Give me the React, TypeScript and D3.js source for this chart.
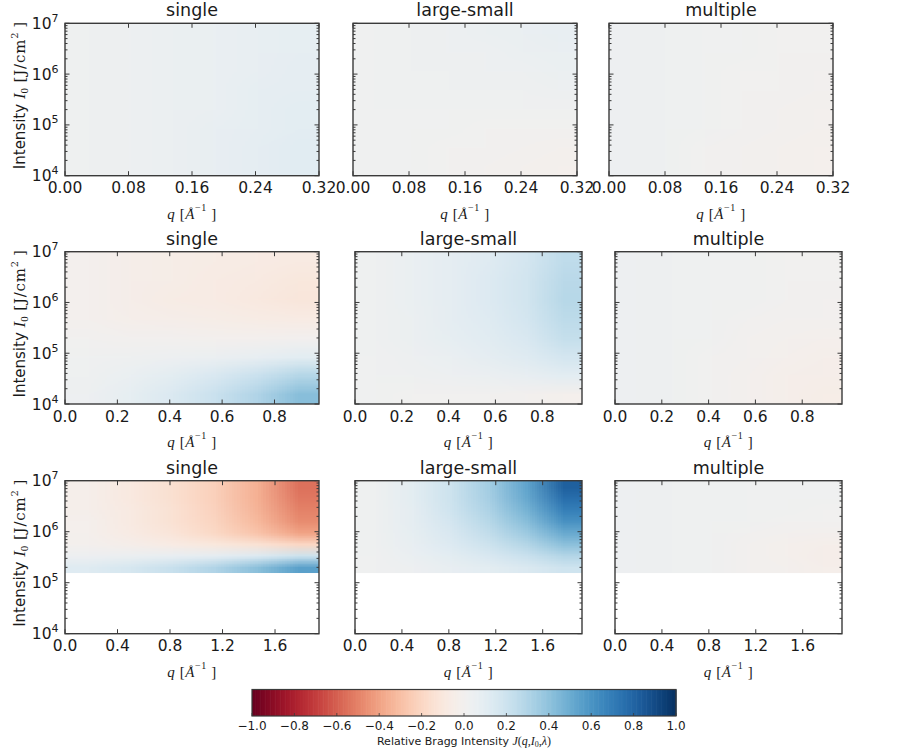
import React, { useMemo } from 'react';
import * as d3 from 'd3';

// ---- data -----------------------------------------------------------------
const PANEL_TITLES = ['single', 'large-small', 'multiple'];

// q-range of each row of panels (Å^-1)
const Q_MAX = [0.32, 0.97, 1.935];
const Q_TICKS = [
  [0, 0.08, 0.16, 0.24, 0.32],
  [0, 0.2, 0.4, 0.6, 0.8],
  [0, 0.4, 0.8, 1.2, 1.6],
];
const Q_TICK_FORMAT = ['.2f', '.1f', '.1f'];

// intensity axis (J/cm^2) and lowest intensity with data, per row (log10)
const I_DOMAIN = [1e4, 1e7];
const I_TICKS = [1e4, 1e5, 1e6, 1e7];
const LOG_I_DATA_MIN = [4, 4, 5.19];

const CB_TICKS = [-1, -0.8, -0.6, -0.4, -0.2, 0, 0.2, 0.4, 0.6, 0.8, 1];

// Relative Bragg intensity J(q, I0, λ) on a grid of cells:
// rows run from the highest intensity (top) to the lowest (bottom),
// columns run from q = 0 to q = q_max.
const J_ROW1_SINGLE = [
  [0.03, 0.04, 0.05, 0.06, 0.07, 0.08],
  [0.03, 0.04, 0.05, 0.06, 0.07, 0.08],
  [0.03, 0.04, 0.05, 0.06, 0.07, 0.09],
  [0.03, 0.04, 0.05, 0.06, 0.08, 0.09],
  [0.03, 0.04, 0.05, 0.06, 0.08, 0.1],
  [0.03, 0.04, 0.05, 0.07, 0.08, 0.1],
  [0.03, 0.04, 0.05, 0.07, 0.09, 0.11],
  [0.03, 0.04, 0.05, 0.07, 0.09, 0.11],
];
const J_ROW1_LARGE_SMALL = [
  [0.02, 0.03, 0.04, 0.05, 0.06, 0.07],
  [0.02, 0.03, 0.04, 0.04, 0.05, 0.06],
  [0.02, 0.03, 0.03, 0.04, 0.04, 0.05],
  [0.02, 0.03, 0.03, 0.03, 0.03, 0.04],
  [0.02, 0.02, 0.02, 0.02, 0.02, 0.02],
  [0.02, 0.02, 0.02, 0.01, 0.01, 0.01],
  [0.02, 0.02, 0.01, 0.01, 0.0, -0.01],
  [0.02, 0.02, 0.01, 0.0, -0.01, -0.02],
];
const J_ROW1_MULTIPLE = [
  [0.04, 0.03, 0.02, 0.02, 0.01, 0.01],
  [0.04, 0.03, 0.02, 0.02, 0.01, 0.01],
  [0.04, 0.03, 0.02, 0.01, 0.01, 0.0],
  [0.04, 0.03, 0.02, 0.01, 0.01, 0.0],
  [0.04, 0.03, 0.02, 0.01, 0.0, -0.01],
  [0.04, 0.03, 0.02, 0.01, 0.0, -0.01],
  [0.04, 0.03, 0.01, 0.0, -0.01, -0.02],
  [0.04, 0.03, 0.01, 0.0, -0.01, -0.02],
];

const J_ROW2_SINGLE = [
  [-0.01, -0.04, -0.05, -0.06, -0.07, -0.08],
  [-0.01, -0.04, -0.05, -0.07, -0.08, -0.1],
  [-0.01, -0.04, -0.06, -0.07, -0.09, -0.11],
  [-0.01, -0.03, -0.04, -0.05, -0.06, -0.07],
  [0.01, 0.0, 0.0, -0.01, -0.01, 0.0],
  [0.02, 0.03, 0.04, 0.05, 0.07, 0.1],
  [0.03, 0.06, 0.1, 0.15, 0.21, 0.29],
  [0.04, 0.08, 0.14, 0.21, 0.3, 0.42],
];
const J_ROW2_LARGE_SMALL = [
  [0.03, 0.06, 0.09, 0.12, 0.17, 0.25],
  [0.03, 0.06, 0.09, 0.13, 0.18, 0.27],
  [0.03, 0.06, 0.09, 0.13, 0.18, 0.28],
  [0.03, 0.05, 0.09, 0.12, 0.17, 0.26],
  [0.03, 0.05, 0.08, 0.11, 0.15, 0.23],
  [0.02, 0.04, 0.06, 0.09, 0.12, 0.17],
  [0.02, 0.03, 0.04, 0.05, 0.07, 0.1],
  [0.02, 0.01, 0.01, 0.01, 0.0, -0.02],
];
const J_ROW2_MULTIPLE = [
  [0.04, 0.03, 0.02, 0.02, 0.01, 0.01],
  [0.04, 0.03, 0.02, 0.02, 0.01, 0.01],
  [0.04, 0.03, 0.02, 0.02, 0.01, 0.0],
  [0.04, 0.03, 0.02, 0.01, 0.0, 0.0],
  [0.04, 0.03, 0.02, 0.0, -0.01, -0.02],
  [0.04, 0.03, 0.01, 0.0, -0.02, -0.03],
  [0.04, 0.03, 0.01, -0.01, -0.03, -0.04],
  [0.04, 0.03, 0.01, -0.01, -0.03, -0.05],
];

const J_ROW3_SINGLE = [
  [-0.03, -0.09, -0.15, -0.23, -0.35, -0.55],
  [-0.03, -0.09, -0.15, -0.23, -0.35, -0.53],
  [-0.03, -0.08, -0.14, -0.22, -0.34, -0.5],
  [-0.02, -0.08, -0.14, -0.21, -0.32, -0.47],
  [-0.02, -0.07, -0.12, -0.19, -0.28, -0.4],
  [-0.01, -0.04, -0.07, -0.1, -0.14, -0.2],
  [0.04, 0.05, 0.07, 0.09, 0.13, 0.2],
  [0.12, 0.16, 0.22, 0.3, 0.41, 0.55],
];
const J_ROW3_LARGE_SMALL = [
  [0.03, 0.1, 0.2, 0.34, 0.53, 0.82],
  [0.03, 0.1, 0.2, 0.33, 0.51, 0.76],
  [0.03, 0.09, 0.19, 0.31, 0.47, 0.69],
  [0.03, 0.09, 0.17, 0.28, 0.42, 0.61],
  [0.03, 0.08, 0.15, 0.24, 0.36, 0.51],
  [0.03, 0.07, 0.13, 0.2, 0.29, 0.41],
  [0.02, 0.06, 0.1, 0.15, 0.21, 0.29],
  [0.02, 0.04, 0.07, 0.1, 0.14, 0.19],
];
const J_ROW3_MULTIPLE = [
  [0.04, 0.03, 0.03, 0.02, 0.02, 0.02],
  [0.04, 0.03, 0.03, 0.02, 0.02, 0.02],
  [0.04, 0.03, 0.03, 0.02, 0.02, 0.01],
  [0.04, 0.03, 0.02, 0.02, 0.01, 0.01],
  [0.04, 0.03, 0.02, 0.01, 0.0, -0.01],
  [0.04, 0.03, 0.02, 0.0, -0.02, -0.03],
  [0.04, 0.03, 0.02, 0.0, -0.02, -0.04],
  [0.04, 0.03, 0.02, 0.0, -0.01, -0.03],
];

const J_GRIDS = [
  [J_ROW1_SINGLE, J_ROW1_LARGE_SMALL, J_ROW1_MULTIPLE],
  [J_ROW2_SINGLE, J_ROW2_LARGE_SMALL, J_ROW2_MULTIPLE],
  [J_ROW3_SINGLE, J_ROW3_LARGE_SMALL, J_ROW3_MULTIPLE],
];

// ---- layout ---------------------------------------------------------------
const WIDTH = 922;
const HEIGHT = 753;
const ROW_TOP = [23.3, 251.7, 480.7];
const ROW_BOTTOM = [175.7, 404, 633.7];
const COL_SPAN = [
  [[65, 319], [353, 577], [609, 833]],
  [[65, 319], [355, 582], [615, 842]],
  [[65, 319], [355, 582], [615, 842]],
];
const CB = { left: 252, right: 676, top: 689.5, bottom: 716 };

const SANS = '"DejaVu Sans", "Liberation Sans", sans-serif';
const SERIF = '"Liberation Serif", "DejaVu Serif", serif';
const WIDE_SERIF = '"DejaVu Serif", "Liberation Serif", serif';
const FRAME = '#3a3a3a';
const INK = '#1a1a1a';

const colorOf = d3.scaleSequential(d3.interpolateRdBu).domain([-1, 1]);

function heatmapHref(grid: number[][]): string {
  const ny = grid.length;
  const nx = grid[0].length;
  const canvas = document.createElement('canvas');
  canvas.width = nx;
  canvas.height = ny;
  const ctx = canvas.getContext('2d');
  if (!ctx) return '';
  grid.forEach((row, j) =>
    row.forEach((v, i) => {
      ctx.fillStyle = colorOf(v);
      ctx.fillRect(i, j, 1, 1);
    })
  );
  return canvas.toDataURL();
}

type PanelProps = { row: number; col: number };

function Panel({ row, col }: PanelProps) {
  const [left, right] = COL_SPAN[row][col];
  const top = ROW_TOP[row];
  const bottom = ROW_BOTTOM[row];
  const x = d3.scaleLinear().domain([0, Q_MAX[row]]).range([left, right]);
  const y = d3.scaleLog().domain(I_DOMAIN).range([bottom, top]);
  const grid = J_GRIDS[row][col];
  const href = useMemo(() => heatmapHref(grid), [grid]);
  const fmt = d3.format(Q_TICK_FORMAT[row]);

  const yMajor = I_TICKS;
  const yMinor: number[] = [];
  for (let k = 4; k < 7; k++) for (let m = 2; m <= 9; m++) yMinor.push(m * 10 ** k);

  const dataTop = y(I_DOMAIN[1]);
  const dataBottom = y(10 ** LOG_I_DATA_MIN[row]);
  const cx = (left + right) / 2;
  const maj = 4.5;
  const mnr = 2.5;

  return (
    <g>
      <image
        href={href}
        x={x(0)}
        y={dataTop}
        width={x(Q_MAX[row]) - x(0)}
        height={dataBottom - dataTop}
        preserveAspectRatio="none"
        style={{ imageRendering: 'auto' }}
      />
      {/* ticks */}
      <g stroke={FRAME} strokeWidth={1}>
        {Q_TICKS[row].map((t) => (
          <g key={'xt' + t}>
            <line x1={x(t)} x2={x(t)} y1={bottom} y2={bottom - maj} />
            <line x1={x(t)} x2={x(t)} y1={top} y2={top + maj} />
          </g>
        ))}
        {yMajor.map((t) => (
          <g key={'ym' + t}>
            <line x1={left} x2={left + maj} y1={y(t)} y2={y(t)} />
            <line x1={right} x2={right - maj} y1={y(t)} y2={y(t)} />
          </g>
        ))}
        {yMinor.map((t) => (
          <g key={'yn' + t}>
            <line x1={left} x2={left + mnr} y1={y(t)} y2={y(t)} />
            <line x1={right} x2={right - mnr} y1={y(t)} y2={y(t)} />
          </g>
        ))}
      </g>
      <rect
        x={left}
        y={top}
        width={right - left}
        height={bottom - top}
        fill="none"
        stroke={FRAME}
        strokeWidth={1.4}
      />
      {/* x tick labels */}
      {Q_TICKS[row].map((t) => (
        <text
          key={'xl' + t}
          x={x(t)}
          y={bottom + 17.5}
          textAnchor="middle"
          fontFamily={SANS}
          fontSize={15.5}
          fill={INK}
        >
          {fmt(t)}
        </text>
      ))}
      {/* y tick labels on the first column */}
      {col === 0 &&
        yMajor.map((t) => (
          <text
            key={'yl' + t}
            x={left - 6.5}
            y={y(t) + 5.5}
            textAnchor="end"
            fontFamily={SANS}
            fontSize={15.5}
            fill={INK}
          >
            10
            <tspan dy={-7} fontSize={11}>
              {Math.round(Math.log10(t))}
            </tspan>
          </text>
        ))}
      {/* title */}
      <text
        x={cx}
        y={top - 7}
        textAnchor="middle"
        fontFamily={SANS}
        fontSize={17.5}
        fill={INK}
      >
        {PANEL_TITLES[col]}
      </text>
      {/* x axis label */}
      <text
        x={cx}
        y={bottom + 43}
        textAnchor="middle"
        fontFamily={SERIF}
        fontSize={15}
        letterSpacing={0.6}
        fill={INK}
      >
        <tspan fontStyle="italic">q</tspan>
        <tspan> [</tspan>
        <tspan fontStyle="italic">Å</tspan>
        <tspan dy={-8} fontSize={10}>
          −1
        </tspan>
        <tspan dy={8}>{' ]'}</tspan>
      </text>
      {/* y axis label */}
      {col === 0 && (
        <text
          transform={`translate(25,${(top + bottom) / 2 - 4}) rotate(-90)`}
          textAnchor="middle"
          fontSize={15}
          fill={INK}
        >
          <tspan fontFamily={SANS}>Intensity </tspan>
          <tspan fontFamily={SERIF} fontStyle="italic" fontSize={17}>
            I
          </tspan>
          <tspan fontFamily={SERIF} dy={3} fontSize={11}>
            0
          </tspan>
          <tspan fontFamily={WIDE_SERIF} dy={-3} fontSize={15} letterSpacing={0.8}>
            {' [J/cm'}
          </tspan>
          <tspan fontFamily={WIDE_SERIF} dy={-7} fontSize={10}>
            2
          </tspan>
          <tspan fontFamily={WIDE_SERIF} dy={7} fontSize={15}>
            {' ]'}
          </tspan>
        </text>
      )}
    </g>
  );
}

function Colorbar() {
  const x = d3.scaleLinear().domain([-1, 1]).range([CB.left, CB.right]);
  const steps = d3.range(-1, 1, 2 / 256);
  const fmt = d3.format('.1f');
  return (
    <g>
      {steps.map((v) => (
        <rect
          key={v}
          x={x(v)}
          y={CB.top}
          width={x(v + 2 / 256) - x(v) + 0.6}
          height={CB.bottom - CB.top}
          fill={colorOf(v + 1 / 256)}
        />
      ))}
      <rect
        x={CB.left}
        y={CB.top}
        width={CB.right - CB.left}
        height={CB.bottom - CB.top}
        fill="none"
        stroke={FRAME}
        strokeWidth={1.2}
      />
      {CB_TICKS.map((t) => (
        <g key={t}>
          <line
            x1={x(t)}
            x2={x(t)}
            y1={CB.bottom}
            y2={CB.bottom - 3}
            stroke={FRAME}
            strokeWidth={0.8}
          />
          <text
            x={x(t)}
            y={CB.bottom + 13.5}
            textAnchor="middle"
            fontFamily={SANS}
            fontSize={12}
            fill={INK}
          >
            {fmt(t)}
          </text>
        </g>
      ))}
      <text
        x={(CB.left + CB.right) / 2}
        y={744.5}
        textAnchor="middle"
        fontSize={11}
        fill={INK}
      >
        <tspan fontFamily={SANS}>Relative Bragg Intensity </tspan>
        <tspan fontFamily={SERIF} fontStyle="italic" fontSize={12}>
          J
        </tspan>
        <tspan fontFamily={SERIF} fontSize={12}>(</tspan>
        <tspan fontFamily={SERIF} fontStyle="italic" fontSize={12}>
          q
        </tspan>
        <tspan fontFamily={SERIF} fontSize={12}>,</tspan>
        <tspan fontFamily={SERIF} fontStyle="italic" fontSize={12}>
          I
        </tspan>
        <tspan fontFamily={SERIF} dy={2} fontSize={8}>
          0
        </tspan>
        <tspan fontFamily={SERIF} dy={-2} fontSize={12}>
          ,
        </tspan>
        <tspan fontFamily={SERIF} fontStyle="italic" fontSize={12}>
          λ
        </tspan>
        <tspan fontFamily={SERIF} fontSize={12}>)</tspan>
      </text>
    </g>
  );
}

export default function App() {
  return (
    <svg
      width={WIDTH}
      height={HEIGHT}
      viewBox={`0 0 ${WIDTH} ${HEIGHT}`}
      style={{ position: 'absolute', left: 0, top: 0, background: '#fff' }}
    >
      <rect width={WIDTH} height={HEIGHT} fill="#fff" />
      {[0, 1, 2].map((row) =>
        [0, 1, 2].map((col) => <Panel key={`${row}-${col}`} row={row} col={col} />)
      )}
      <Colorbar />
    </svg>
  );
}
